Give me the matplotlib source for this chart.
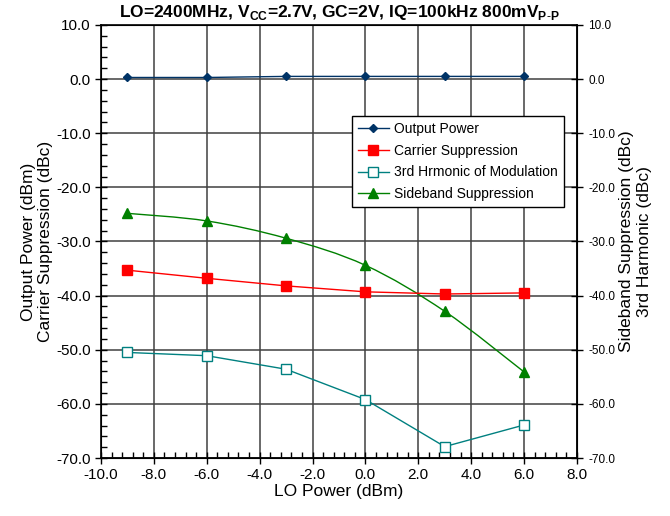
import numpy as np
import matplotlib
matplotlib.use("Agg")
import matplotlib.pyplot as plt
from matplotlib.path import Path
from matplotlib.patches import PathPatch
from matplotlib.ticker import MultipleLocator, FormatStrFormatter

plt.rcParams['font.family'] = ['Liberation Sans', 'DejaVu Sans']
plt.rcParams['mathtext.fontset'] = 'custom'
plt.rcParams['mathtext.rm'] = 'Liberation Sans'
plt.rcParams['mathtext.bf'] = 'Liberation Sans:bold'

# data
lo_power = [-9, -6, -3, 0, 3, 6]
output_power = [0.3, 0.3, 0.5, 0.5, 0.5, 0.5]
carrier_supp = [-35.3, -36.8, -38.2, -39.3, -39.7, -39.5]
third_harm = [-50.5, -51.1, -53.6, -59.2, -67.9, -63.9]
sideband_supp = [-24.8, -26.2, -29.4, -34.4, -42.9, -54.1]

title = (r"LO=2400MHz, V$_{\mathbf{CC}}$=2.7V, GC=2V, "
         r"IQ=100kHz 800mV$_{\mathbf{P\text{-}P}}$")


def smooth_path(x, y, t=1/6.):
    # excel-style smoothed line: cubic bezier segments through the points
    x = np.asarray(x, float)
    y = np.asarray(y, float)
    verts = [(x[0], y[0])]
    codes = [Path.MOVETO]
    n = len(x)
    for i in range(n - 1):
        p0 = (x[max(i-1, 0)], y[max(i-1, 0)])
        p1 = (x[i], y[i])
        p2 = (x[i+1], y[i+1])
        p3 = (x[min(i+2, n-1)], y[min(i+2, n-1)])
        c1 = (p1[0] + (p2[0]-p0[0])*t, p1[1] + (p2[1]-p0[1])*t)
        c2 = (p2[0] - (p3[0]-p1[0])*t, p2[1] - (p3[1]-p1[1])*t)
        verts += [c1, c2, p2]
        codes += [Path.CURVE4]*3
    return Path(verts, codes)


fig = plt.figure(figsize=(6.7, 5.16), dpi=100)
ax = fig.add_axes([0.1507, 0.1124, 0.7104, 0.8392])

ax.plot(lo_power, output_power, color='#003366', marker='D', ms=4.5, lw=1,
        label='Output Power')
ax.plot(lo_power, carrier_supp, color='#ff0000', marker='s', ms=6.5, lw=1,
        label='Carrier Suppression')
ax.plot(lo_power, third_harm, color='#008080', marker='s', ms=6.5, lw=1,
        mfc='white', mew=1, label='3rd Hrmonic of Modulation')
ax.add_patch(PathPatch(smooth_path(lo_power, sideband_supp), fc='none',
                       ec='#008000', lw=1))
ax.plot(lo_power, sideband_supp, color='#008000', marker='^', ms=7, lw=0,
        label='Sideband Suppression')
# legend handle with line for sideband
h, l = ax.get_legend_handles_labels()
h[3] = plt.Line2D([], [], color='#008000', marker='^', ms=7, lw=1)

ax.set_xlim(-10, 8)
ax.set_ylim(-70, 10)
ax.xaxis.set_major_locator(MultipleLocator(2))
ax.xaxis.set_minor_locator(MultipleLocator(0.4))
ax.yaxis.set_major_locator(MultipleLocator(10))
ax.yaxis.set_minor_locator(MultipleLocator(2))
ax.xaxis.set_major_formatter(FormatStrFormatter('%.1f'))
ax.yaxis.set_major_formatter(FormatStrFormatter('%.1f'))
ax.grid(True, which='major', color='#404040', lw=1.1)
ax.set_axisbelow(True)
ax.tick_params(which='major', direction='inout', length=8, width=1,
               labelsize=11, top=False, right=False)
ax.tick_params(which='minor', direction='in', length=4, width=1,
               top=False, right=False)
for s in ax.spines.values():
    s.set_linewidth(1.2)

ax.set_xlabel('LO Power (dBm)', fontsize=12.5, labelpad=1)
ax.set_ylabel('Output Power (dBm)\nCarrier Suppression (dBc)', fontsize=12.5,
              labelpad=2)
ax.set_title(title, fontsize=12.5, fontweight='bold', pad=6)

ax2 = ax.twinx()
ax2.set_ylim(-70, 10)
ax2.yaxis.set_major_locator(MultipleLocator(10))
ax2.yaxis.set_major_formatter(FormatStrFormatter('%.1f'))
ax2.tick_params(direction='inout', length=8, width=1, labelsize=8.5, pad=4)
ax2.set_ylabel('Sideband Suppression (dBc)\n3rd Harmonic (dBc)', fontsize=12.5,
               labelpad=3)

leg = ax.legend(h, l, loc='upper left', bbox_to_anchor=(0.527, 0.79),
                fontsize=10, frameon=True, fancybox=False, framealpha=1,
                edgecolor='black', borderpad=0.45, labelspacing=0.55,
                handlelength=2.2, handletextpad=0.4, borderaxespad=0)
leg.get_frame().set_linewidth(1)

fig.savefig('out.png', dpi=100)
